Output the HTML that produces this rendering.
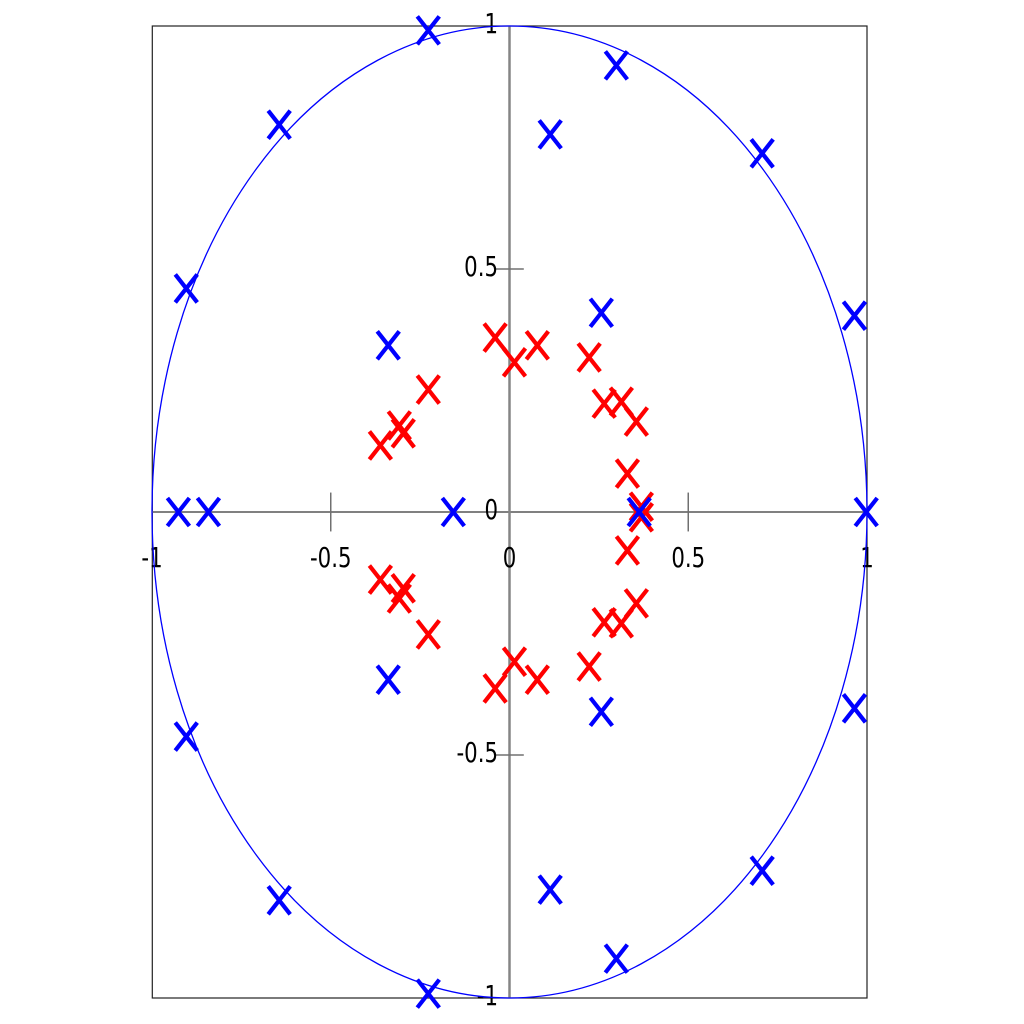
<!DOCTYPE html>
<html lang="en">
<head>
<meta charset="utf-8">
<title>Pole-zero plot</title>
<style>
html,body{margin:0;padding:0;background:#fff;width:1024px;height:1024px;overflow:hidden}
svg{display:block}
text{font-family:"DejaVu Sans",sans-serif;font-size:28px;fill:#000}
</style>
</head>
<body>
<svg id="chart" xmlns="http://www.w3.org/2000/svg" width="1024" height="1024" viewBox="0 0 1024 1024"></svg>
<script>
const xTicks = [-1, -0.5, 0, 0.5, 1];
const xTickLabels = ['-1', '-0.5', '0', '0.5', '1'];
const yTicks = [1, 0.5, 0, -0.5, -1];
const yTickLabels = ['1', '0.5', '0', '-0.5', '-1'];
const blueX = [-0.228, 0.298, 0.113, 0.706, -0.645, -0.905, 0.964, 0.256, -0.340, -0.927, -0.843, -0.158, 0.362, 0.997, -0.228, 0.298, 0.113, 0.706, -0.645, -0.905, 0.964, 0.256, -0.340];
const blueY = [0.991, 0.919, 0.777, 0.738, 0.797, 0.460, 0.404, 0.410, 0.343, 0, 0, 0, 0, 0, -0.991, -0.919, -0.777, -0.738, -0.799, -0.462, -0.404, -0.411, -0.345];
const redX = [-0.041, 0.013, 0.077, 0.222, 0.264, 0.312, 0.354, 0.329, 0.368, -0.228, -0.309, -0.298, -0.362, 0.368, 0.329, 0.354, 0.312, 0.264, 0.222, 0.077, 0.013, -0.041, -0.228, -0.309, -0.298, -0.362];
const redY = [0.359, 0.308, 0.343, 0.318, 0.223, 0.227, 0.186, 0.079, 0.011, 0.252, 0.178, 0.162, 0.137, -0.011, -0.079, -0.188, -0.229, -0.227, -0.318, -0.345, -0.308, -0.363, -0.252, -0.178, -0.157, -0.139];

const svg = document.getElementById('chart');
const NS = 'http://www.w3.org/2000/svg';
const plotLeft = 152, plotRight = 867, plotTop = 26, plotBottom = 998;
const sx = v => plotLeft + (v + 1) / 2 * (plotRight - plotLeft);
const sy = v => plotTop + (1 - v) / 2 * (plotBottom - plotTop);
const labelScale = 0.76;

function make(tag, attrs, parent) {
  const el = document.createElementNS(NS, tag);
  for (const k in attrs) el.setAttribute(k, attrs[k]);
  (parent || svg).appendChild(el);
  return el;
}

const frame = make('rect', {x: plotLeft + 0.3, y: plotTop, width: plotRight - plotLeft - 0.3, height: plotBottom - plotTop, fill: 'none', stroke: '#222', 'stroke-width': 1.2});



const xAxis = make('line', {x1: sx(-1), x2: sx(1), y1: sy(0), y2: sy(0), stroke: '#808080', 'stroke-width': 2});



const yAxis = make('line', {x1: sx(0), x2: sx(0), y1: sy(1), y2: sy(-1), stroke: '#858585', 'stroke-width': 2.5});



xTicks.forEach((v, i) => {
  if (v !== 0 && Math.abs(v) !== 1) {
    const t = make('line', {x1: sx(v), x2: sx(v), y1: sy(0.04), y2: sy(-0.04), stroke: '#707070', 'stroke-width': 1.5});
    
    
  }
  const label = make('text', {transform: 'translate(' + sx(v) + ',567) scale(' + labelScale + ',1)', 'text-anchor': 'middle'});
  label.textContent = xTickLabels[i];
  
  
});

yTicks.forEach((v, i) => {
  if (v !== 0 && Math.abs(v) !== 1) {
    const t = make('line', {x1: sx(-0.04), x2: sx(0.04), y1: sy(v), y2: sy(v), stroke: '#707070', 'stroke-width': 1.5});
    
    
  }
  const label = make('text', {transform: 'translate(498,' + (sy(v) + 7) + ') scale(' + labelScale + ',1)', 'text-anchor': 'end'});
  label.textContent = yTickLabels[i];
  
  
});

const circle = make('ellipse', {cx: sx(0), cy: sy(0), rx: sx(1) - sx(0), ry: sy(0) - sy(1), fill: 'none', stroke: '#0000ff', 'stroke-width': 1.3});



function drawCross(xv, yv, color, name) {
  const cx = sx(xv) + 0.3, cy = sy(yv), dx = 11, dy = 14;
  const d = 'M' + (cx - dx) + ' ' + (cy - dy) + 'L' + (cx + dx) + ' ' + (cy + dy) +
            'M' + (cx - dx) + ' ' + (cy + dy) + 'L' + (cx + dx) + ' ' + (cy - dy);
  const p = make('path', {d: d, fill: 'none', stroke: color, 'stroke-width': 4.2});
  
  
}

redX.forEach((v, i) => drawCross(v, redY[i], '#ff0000', 'red-cross-marker'));
blueX.forEach((v, i) => drawCross(v, blueY[i], '#0000ff', 'blue-cross-marker'));
</script>
</body>
</html>
